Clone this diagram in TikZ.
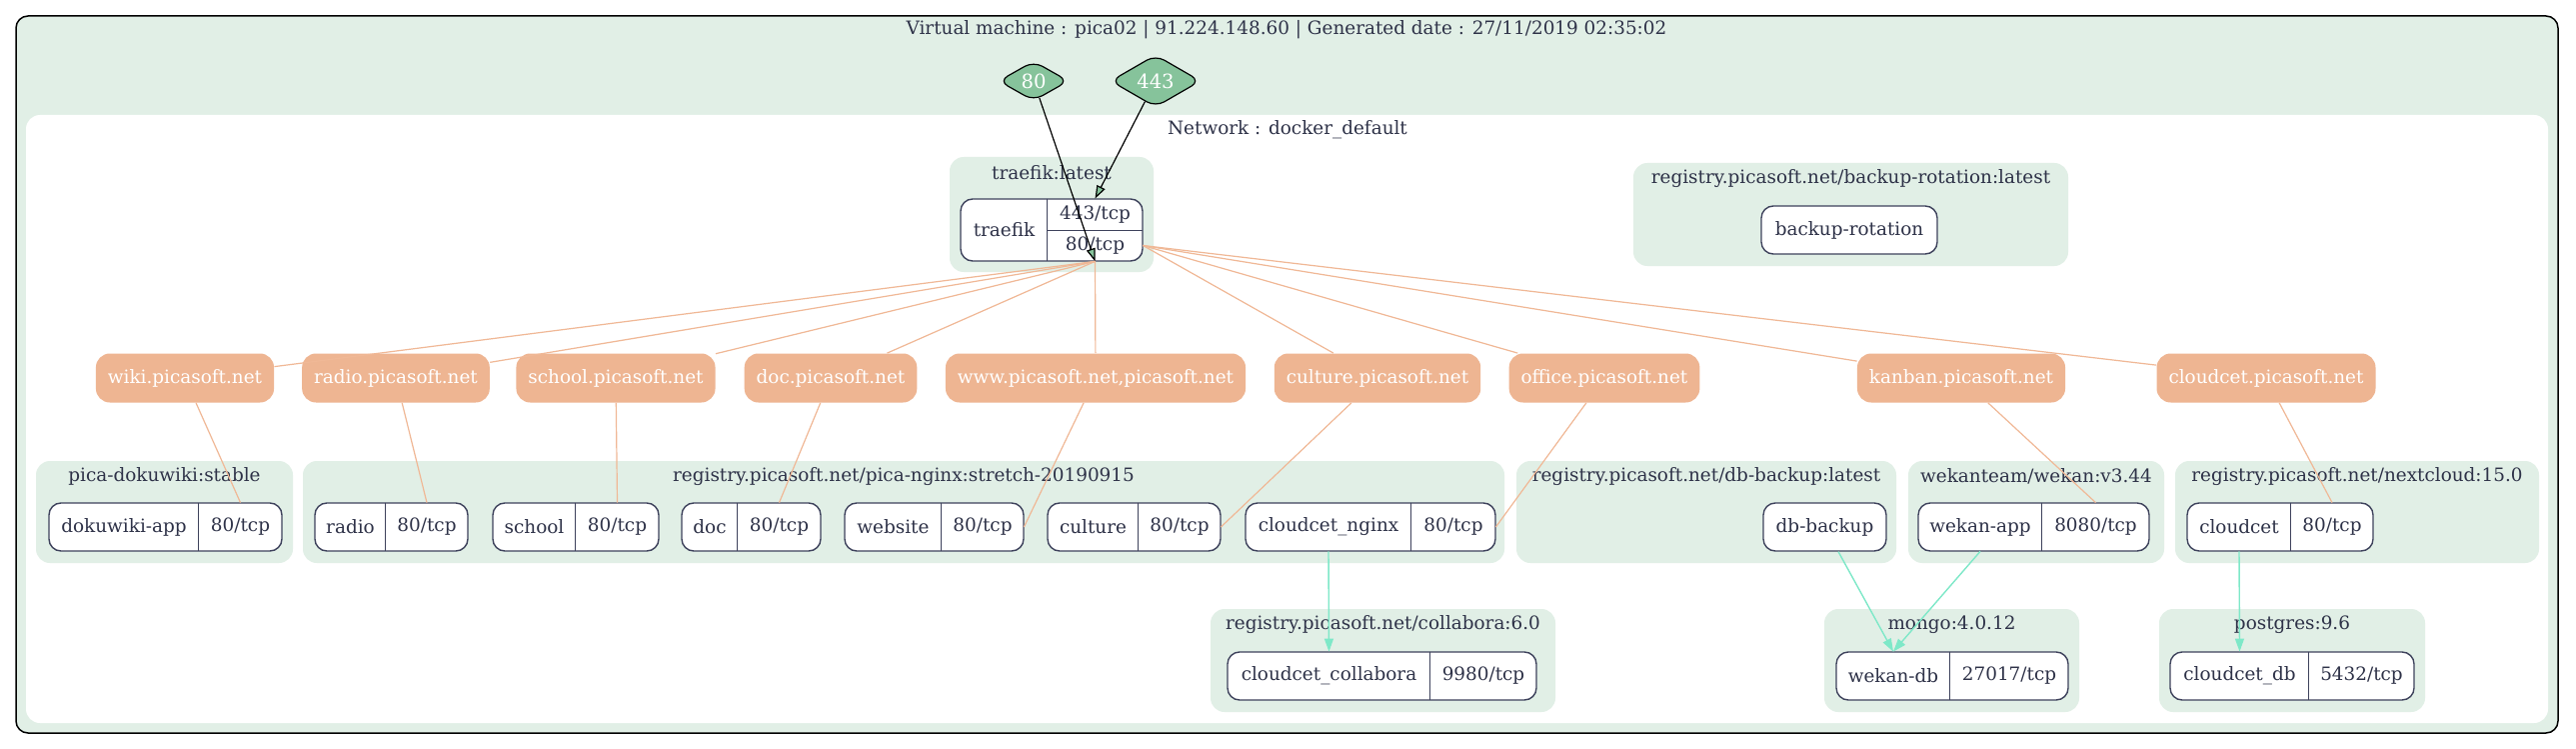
\documentclass[tikz,border=0pt]{standalone}
\usepackage{fontspec}
\setmainfont{DejaVu Serif}
\usetikzlibrary{calc,arrows.meta,shapes}
\definecolor{clusterbg}{RGB}{225,239,230}
\definecolor{domainbg}{RGB}{238,181,146}
\definecolor{domainline}{RGB}{240,184,150}
\definecolor{portbg}{RGB}{134,195,155}
\definecolor{linkline}{RGB}{126,232,200}
\definecolor{inktext}{RGB}{46,50,72}
\definecolor{recline}{RGB}{62,66,92}

% cluster: name, x1, y1, x2, y2, label
\newcommand{\cluster}[6]{%
  \fill[clusterbg, rounded corners=7pt] (#2,#3) rectangle (#4,#5);
  \node[lbl] (#1) at ({(#2+#4)/2},#3+15.5) {#6};
}
% container record: name, x left, x divider, x right, y, name text, port text
\newcommand{\container}[7]{%
  \draw[recbox, fill=white] (#2,#5-24) rectangle (#4,#5+24);
  \node[cell, minimum width={(#3-#2)*0.5pt}] (#1) at ({(#2+#3)/2},#5) {#6};
  \node[cell, minimum width={(#4-#3)*0.5pt}] (#1p) at ({(#3+#4)/2},#5) {#7};
  \draw[recdiv] (#1p.north west) -- (#1p.south west);
}

\begin{document}
\begin{tikzpicture}[x=0.5pt, y=-0.5pt,
  font=\fontsize{9.2}{11}\selectfont,
  lbl/.style={inner sep=0pt, text=inktext},
  cell/.style={inner sep=0pt, minimum height=24pt, text=inktext},
  recbox/.style={draw=recline, line width=0.7pt, rounded corners=6pt},
  recdiv/.style={draw=recline, line width=0.55pt},
  hostbox/.style={fill=domainbg, text=white, rounded corners=7pt, minimum height=24.5pt, inner xsep=6pt},
  portnode/.style={diamond, draw=black, line width=0.6pt, fill=portbg, text=white, rounded corners=5pt, inner sep=0pt, minimum height=19pt, font=\fontsize{9.8}{11}\selectfont},
  route/.style={draw=domainline, line width=0.6pt},
  portlink/.style={draw=black, line width=0.6pt, -{Triangle[length=6.5pt, width=4.5pt, fill=portbg]}},
  dblink/.style={draw=linkline, line width=0.7pt, -{Triangle[length=6.5pt, width=4.5pt]}}]
\useasboundingbox (0,0) rectangle (2577,749);

% virtual machine and network
\draw[black, line width=0.75pt, fill=clusterbg, rounded corners=6pt] (16,16) rectangle (2559,733);
\fill[white, rounded corners=7pt] (26,115) rectangle (2549,723);
\node[lbl] (vmtitle) at (1287,30) {Virtual machine : pica02 | 91.224.148.60 | Generated date : 27/11/2019 02:35:02};
\node[lbl] (nettitle) at (1288,130) {Network : docker\_default};

% images
\cluster{traefikimg}{950}{157}{1154}{272}{traefik:latest}
\cluster{rotationimg}{1634}{163}{2069}{266}{registry.picasoft.net/backup-rotation:latest}
\cluster{wikiimg}{36}{461}{293}{563}{pica-dokuwiki:stable}
\cluster{nginximg}{303}{461}{1505}{563}{registry.picasoft.net/pica-nginx:stretch-20190915}
\cluster{dbbackupimg}{1517}{461}{1897}{563}{registry.picasoft.net/db-backup:latest}
\cluster{wekanimg}{1909}{461}{2165}{563}{wekanteam/wekan:v3.44}
\cluster{nextcloudimg}{2176}{461}{2540}{563}{registry.picasoft.net/nextcloud:15.0}
\cluster{collaboraimg}{1211}{609}{1556}{712}{registry.picasoft.net/collabora:6.0}
\cluster{mongoimg}{1825}{609}{2080}{712}{mongo:4.0.12}
\cluster{postgresimg}{2160}{609}{2426}{712}{postgres:9.6}

% traefik
\draw[recbox, fill=white] (961,199) rectangle (1143,261);
\node[cell, minimum width=43.5pt, minimum height=31pt] (traefik) at (1004.5,230) {traefik};
\node[cell, minimum width=47.5pt, minimum height=15.5pt] (traefik443) at (1095.5,214.5) {443/tcp};
\node[cell, minimum width=47.5pt, minimum height=15.5pt] (traefik80) at (1095.5,245.5) {80/tcp};
\draw[recdiv] (traefik443.north west) -- (traefik80.south west);
\draw[recdiv] (traefik443.south west) -- (traefik443.south east);

\node[cell, recbox, fill=white, minimum width=88pt] (rotation) at (1850,230) {backup-rotation};

% containers
\container{dokuwiki}{49}{199}{282}{527}{dokuwiki-app}{80/tcp}
\container{radio}{315}{386}{468}{527}{radio}{80/tcp}
\container{school}{493}{576}{659}{527}{school}{80/tcp}
\container{doc}{682}{738}{821}{527}{doc}{80/tcp}
\container{website}{845}{942}{1024}{527}{website}{80/tcp}
\container{culture}{1048}{1139}{1221}{527}{culture}{80/tcp}
\container{nginx}{1246}{1412}{1496}{527}{cloudcet\_nginx}{80/tcp}
\node[cell, recbox, fill=white, minimum width=61.5pt] (dbbackup) at (1825.5,527) {db-backup};
\container{wekanapp}{1919}{2043}{2150}{527}{wekan-app}{8080/tcp}
\container{cloudcet}{2188}{2292}{2374}{527}{cloudcet}{80/tcp}
\container{collabora}{1228}{1431}{1537}{676}{cloudcet\_collabora}{9980/tcp}
\container{wekandb}{1837}{1951}{2069}{676}{wekan-db}{27017/tcp}
\container{cloudcetdb}{2171}{2310}{2415}{676}{cloudcet\_db}{5432/tcp}

% domains
\foreach \n/\x/\t in {wikihost/185/wiki, radiohost/396/radio, schoolhost/616/school,
  dochost/831/doc, culturehost/1378/culture, officehost/1605/office,
  kanbanhost/1962/kanban, cloudhost/2267/cloudcet}
  \node[hostbox] (\n) at (\x,378) {\t.picasoft.net};
\node[hostbox] (wwwhost) at (1096,378) {www.picasoft.net,picasoft.net};

% ports
\node[portnode, minimum width=35pt] (p80) at (1034,81) {80};
\node[portnode, minimum width=45pt] (p443) at (1156,81) {443};
\draw[portlink] (p80) -- (traefik80.south);
\draw[portlink] (p443) -- (traefik443.north);

% routes
\foreach \d in {wikihost,radiohost,schoolhost,dochost,wwwhost}
  \draw[route] (traefik80.south) -- (\d);
\foreach \d in {culturehost,officehost,kanbanhost,cloudhost}
  \draw[route] (traefik80.east) -- (\d);
\draw[route] (wikihost) -- (dokuwikip.north);
\draw[route] (radiohost) -- (radiop.north);
\draw[route] (schoolhost) -- (schoolp.north);
\draw[route] (dochost) -- (docp.north);
\draw[route] (wwwhost) -- (websitep.east);
\draw[route] (culturehost) -- (culturep.east);
\draw[route] (officehost) -- (nginxp.east);
\draw[route] (kanbanhost) -- (wekanappp.north);
\draw[route] (cloudhost) -- (cloudcetp.north);

% links
\draw[dblink] (nginx.south) -- (collabora.north);
\draw[dblink] (dbbackup) -- (wekandb.north);
\draw[dblink] (wekanapp.south) -- (wekandb.north);
\draw[dblink] (cloudcet.south) -- (cloudcetdb.north);
\end{tikzpicture}
\end{document}
